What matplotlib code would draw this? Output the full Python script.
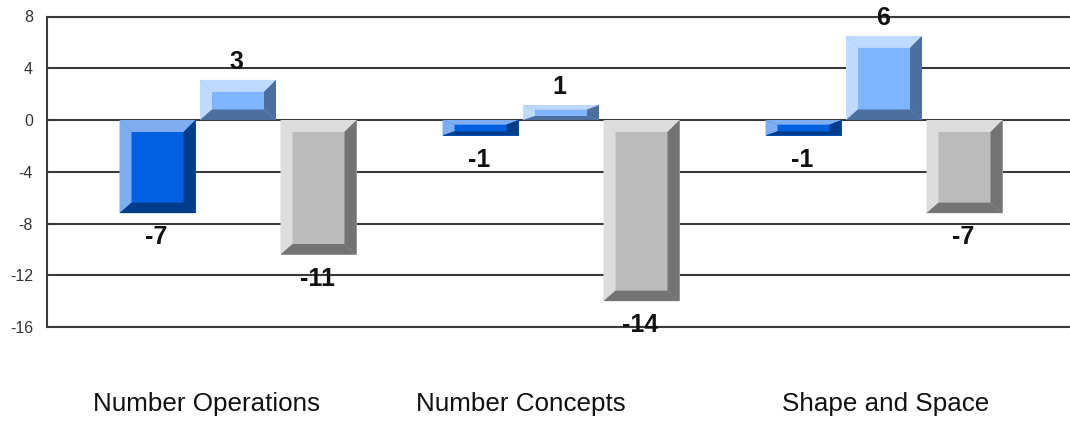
import matplotlib
matplotlib.use('Agg')
import matplotlib.pyplot as plt
import numpy as np

plt.rcParams['font.family'] = ['Liberation Sans', 'DejaVu Sans']

categories = ['Number Operations', 'Number Concepts', 'Shape and Space']
# drawn bar heights, they differ a bit from the printed labels
series_a = [-7.2, -1.2, -1.2]
series_b = [3.1, 1.15, 6.5]
series_c = [-10.4, -14.0, -7.2]
labels_a = ['-7', '-1', '-1']
labels_b = ['3', '1', '6']
labels_c = ['-11', '-14', '-7']
y_ticks = [-16, -12, -8, -4, 0, 4, 8]

W, H = 1070, 421
L, R, T, B = 47, 1070, 16.5, 327
GROUP_PX = 323.0
X0_PX = 238.0
LINE = '#3a3a3a'

# face, light (top/left), dark (right/bottom)
colours = [
    ('#0060E0', '#7FAEF0', '#003C8C'),
    ('#7FB5FF', '#BFD9FF', '#4D6F9F'),
    ('#BBBBBB', '#DDDDDD', '#737373'),
]

fig = plt.figure(figsize=(W / 100, H / 100), dpi=100)
ax = fig.add_axes([L / W, 1 - B / H, (R - L) / W, (B - T) / H])
ax.set_xlim((L - X0_PX) / GROUP_PX, (R - X0_PX) / GROUP_PX)
ax.set_ylim(-16, 8)

px_x = 1 / GROUP_PX
px_y = 24 / (B - T)
bar_w = 76 * px_x
offsets = np.array([-80.5, 0, 80.5]) * px_x


def bevel_bar(x, v, cols):
    face, light, dark = cols
    x1, x2 = x - bar_w / 2, x + bar_w / 2
    y1, y2 = min(v, 0), max(v, 0)
    dx = 12 * px_x
    h_px = (y2 - y1) / px_y
    dy_t = min(12, h_px * 0.3) * px_y
    dy_b = min(10.5, h_px * 0.27) * px_y
    ax.fill([x1, x2, x2, x1], [y1, y1, y2, y2], color=face, lw=0, zorder=3)
    ax.fill([x1, x2, x2 - dx, x1 + dx], [y2, y2, y2 - dy_t, y2 - dy_t], color=light, lw=0, zorder=3)
    ax.fill([x1, x1 + dx, x1 + dx, x1], [y2, y2 - dy_t, y1 + dy_b, y1], color=light, lw=0, zorder=3)
    ax.fill([x2, x2 - dx, x2 - dx, x2], [y2, y2 - dy_t, y1 + dy_b, y1], color=dark, lw=0, zorder=3)
    ax.fill([x1, x2, x2 - dx, x1 + dx], [y1, y1, y1 + dy_b, y1 + dy_b], color=dark, lw=0, zorder=3)


all_values = [series_a, series_b, series_c]
all_labels = [labels_a, labels_b, labels_c]
for s, (vals, labs) in enumerate(zip(all_values, all_labels)):
    for g, (v, lab) in enumerate(zip(vals, labs)):
        x = g + offsets[s]
        bevel_bar(x, v, colours[s])
        off = 17.5 if v < 0 else -13
        ax.annotate(lab, (x, v), xytext=(-1, -off), textcoords='offset points',
                    ha='center', va='center', fontsize=18, color='#111111',
                    fontweight='bold', zorder=5)

ax.set_yticks(y_ticks)
ax.set_yticklabels([str(t) for t in y_ticks], fontsize=11.5, color='#333333')
ax.tick_params(axis='y', length=0, pad=10)
ax.grid(axis='y', color=LINE, lw=1.5, zorder=1)
ax.set_axisbelow(True)

# category labels sit off centre from the groups in the original
ax.set_xticks([(206.5 - X0_PX) / GROUP_PX, (520.5 - X0_PX) / GROUP_PX, (886 - X0_PX) / GROUP_PX])
ax.set_xticklabels(categories, fontsize=18.7, color='#111111')
ax.tick_params(axis='x', length=0, pad=47)

for side in ['top', 'right']:
    ax.spines[side].set_visible(False)
for side in ['left', 'bottom']:
    ax.spines[side].set_color(LINE)
    ax.spines[side].set_linewidth(1.5)
ax.axhline(8, color=LINE, lw=1.5, clip_on=False, zorder=1)

fig.savefig('out.png', dpi=100)
